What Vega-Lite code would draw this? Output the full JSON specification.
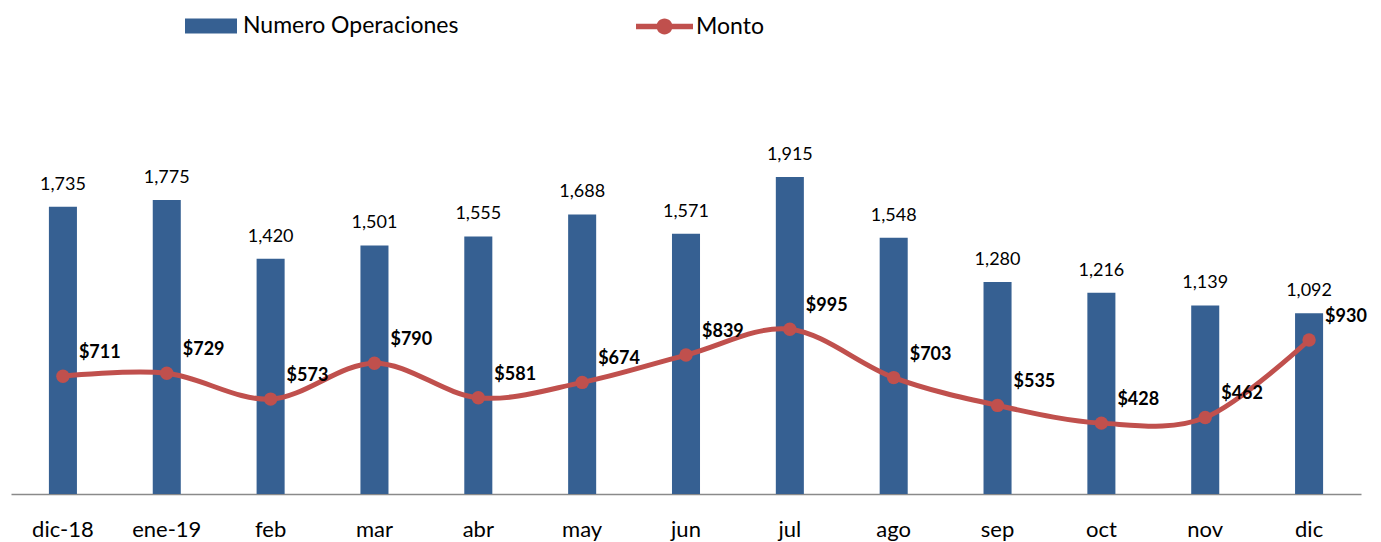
{
  "$schema": "https://vega.github.io/schema/vega-lite/v6.json",
  "width": 1350,
  "height": 414,
  "autosize": {"type": "none"},
  "padding": {"left": 11, "top": 80, "right": 20, "bottom": 48},
  "background": "white",
  "config": {"view": {"stroke": null}, "font": "Lato"},
  "data": {
    "values": [
      {"mes": "dic-18", "ops": 1735, "monto": 711},
      {"mes": "ene-19", "ops": 1775, "monto": 729},
      {"mes": "feb", "ops": 1420, "monto": 573},
      {"mes": "mar", "ops": 1501, "monto": 790},
      {"mes": "abr", "ops": 1555, "monto": 581},
      {"mes": "may", "ops": 1688, "monto": 674},
      {"mes": "jun", "ops": 1571, "monto": 839},
      {"mes": "jul", "ops": 1915, "monto": 995},
      {"mes": "ago", "ops": 1548, "monto": 703},
      {"mes": "sep", "ops": 1280, "monto": 535},
      {"mes": "oct", "ops": 1216, "monto": 428},
      {"mes": "nov", "ops": 1139, "monto": 462},
      {"mes": "dic", "ops": 1092, "monto": 930}
    ]
  },
  "encoding": {
    "x": {
      "field": "mes",
      "type": "nominal",
      "sort": null,
      "scale": {"paddingInner": 0, "paddingOuter": 0},
      "axis": {
        "title": null,
        "labelAngle": 0,
        "ticks": false,
        "tickSize": 0,
        "grid": false,
        "domainColor": "#8a8a8a",
        "domainWidth": 1.3,
        "labelFont": "Lato",
        "labelFontSize": 22,
        "labelColor": "#000000",
        "labelBaseline": "alphabetic",
        "labelPadding": 42
      }
    }
  },
  "layer": [
    {
      "mark": {"type": "bar", "width": {"band": 0.27}},
      "encoding": {
        "y": {"field": "ops", "type": "quantitative", "scale": {"domain": [0, 2500], "nice": false}, "axis": null},
        "fill": {
          "datum": "Numero Operaciones",
          "type": "nominal",
          "scale": {"range": ["#366092"]},
          "legend": {
            "orient": "none",
            "legendX": 174,
            "legendY": -80,
            "direction": "horizontal",
            "title": null,
            "padding": 0,
            "symbolType": "M-1,-0.29H1V0.29H-1Z",
            "symbolSize": 2704,
            "symbolStrokeWidth": 0,
            "symbolOpacity": 1,
            "labelFont": "Lato",
            "labelFontSize": 23,
            "labelColor": "#000000",
            "labelOffset": 6,
            "labelLimit": 400
          }
        }
      }
    },
    {
      "mark": {"type": "text", "dy": -17, "baseline": "alphabetic", "fontSize": 18, "font": "Lato", "color": "#000000"},
      "encoding": {
        "y": {"field": "ops", "type": "quantitative"},
        "text": {"field": "ops", "type": "quantitative", "format": ","}
      }
    },
    {
      "mark": {"type": "line", "interpolate": "cardinal", "strokeWidth": 5, "color": "#C0504D"},
      "encoding": {
        "y": {"field": "monto", "type": "quantitative"}
      }
    },
    {
      "mark": {"type": "point", "filled": true, "size": 180, "opacity": 1},
      "encoding": {
        "y": {"field": "monto", "type": "quantitative"},
        "color": {
          "datum": "Monto",
          "type": "nominal",
          "scale": {"range": ["#C0504D"]},
          "legend": {
            "orient": "none",
            "legendX": 625,
            "legendY": -82,
            "direction": "horizontal",
            "title": null,
            "padding": 0,
            "symbolType": "M-1,-0.095H1V0.095H-1Z M-0.28,0A0.28,0.28 0 1,1 0.28,0A0.28,0.28 0 1,1 -0.28,0Z",
            "symbolSize": 3249,
            "symbolStrokeWidth": 0,
            "symbolOpacity": 1,
            "labelFont": "Lato",
            "labelFontSize": 23,
            "labelColor": "#000000",
            "labelOffset": 3,
            "labelLimit": 400
          }
        }
      }
    },
    {
      "mark": {"type": "text", "dx": 16, "dy": -18, "align": "left", "baseline": "alphabetic", "fontSize": 18, "fontWeight": "bold", "font": "Lato", "color": "#000000"},
      "encoding": {
        "y": {"field": "monto", "type": "quantitative"},
        "text": {"field": "monto", "type": "quantitative", "format": "$,.0f"}
      }
    }
  ]
}
